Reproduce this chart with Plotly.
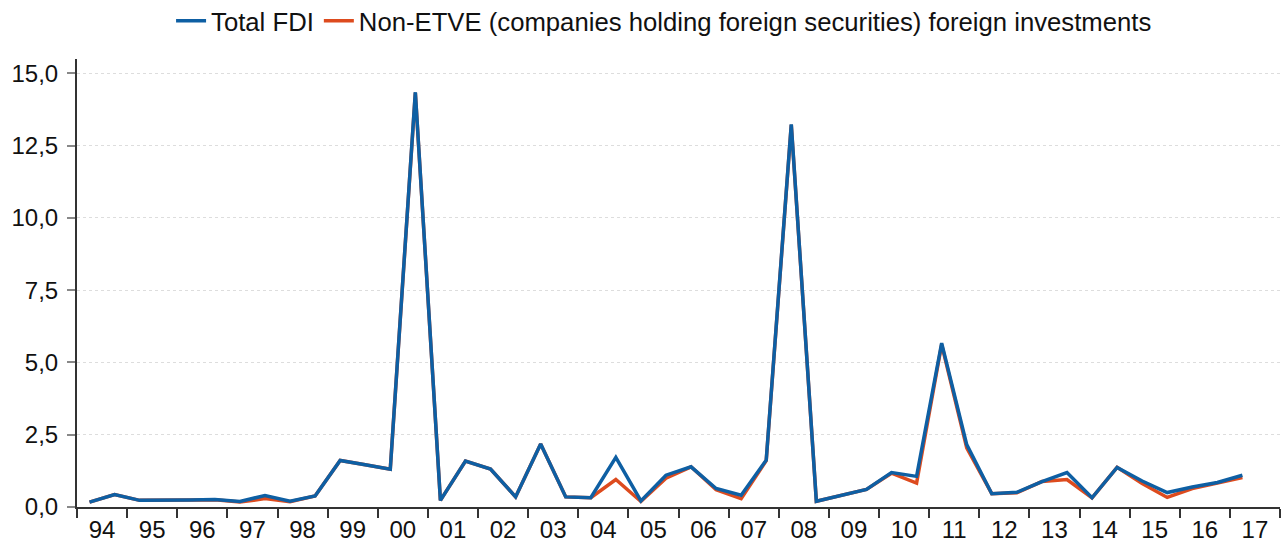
import plotly.graph_objects as go

# half-year observations, 1994 H1 .. 2017 H1 (EUR bn)
years = ["94", "95", "96", "97", "98", "99", "00", "01", "02", "03", "04", "05",
         "06", "07", "08", "09", "10", "11", "12", "13", "14", "15", "16", "17"]

total_fdi = [0.17, 0.43, 0.23, 0.22, 0.24, 0.26, 0.19, 0.40, 0.20, 0.38,
             1.61, 1.46, 1.31, 14.35, 0.23, 1.59, 1.31, 0.35, 2.18, 0.35,
             0.32, 1.72, 0.21, 1.10, 1.39, 0.64, 0.41, 1.62, 13.24, 0.20,
             0.40, 0.61, 1.19, 1.06, 5.67, 2.16, 0.46, 0.51, 0.88, 1.19,
             0.32, 1.37, 0.90, 0.50, 0.69, 0.85, 1.10]

non_etve = [0.17, 0.43, 0.23, 0.22, 0.24, 0.25, 0.17, 0.29, 0.18, 0.38,
            1.61, 1.46, 1.31, 14.33, 0.23, 1.59, 1.31, 0.35, 2.18, 0.35,
            0.32, 0.95, 0.19, 1.00, 1.39, 0.60, 0.29, 1.60, 13.22, 0.20,
            0.40, 0.61, 1.17, 0.83, 5.62, 2.05, 0.46, 0.49, 0.88, 0.95,
            0.32, 1.37, 0.81, 0.33, 0.64, 0.83, 1.02]

x = list(range(len(total_fdi)))
font = "Arial, Liberation Sans, sans-serif"

fig = go.Figure()
fig.add_trace(go.Scatter(x=x, y=non_etve, mode="lines", legendrank=2,
                         name="Non-ETVE (companies holding foreign securities) foreign investments",
                         line=dict(color="#DD4B1E", width=3.5)))
fig.add_trace(go.Scatter(x=x, y=total_fdi, mode="lines", legendrank=1,
                         name="Total FDI",
                         line=dict(color="#0E5FA3", width=3.5)))

fig.update_layout(
    width=1282, height=548,
    margin=dict(l=77, r=2, t=59, b=41, autoexpand=False),
    plot_bgcolor="white", paper_bgcolor="white",
    font=dict(family=font, size=24, color="#111111"),
    legend=dict(orientation="h", x=0.488, xanchor="center", y=1.085, yanchor="middle",
                font=dict(size=25.7), itemwidth=30, tracegroupgap=0),
)
fig.update_xaxes(
    range=[-0.5, 47.5],
    automargin=False,
    tickmode="array",
    tickvals=[0.5 + 2 * k for k in range(len(years))],
    ticktext=years,
    ticks="",
    showgrid=False, zeroline=False,
    showline=True, linecolor="#333333", linewidth=2,
    minor=dict(ticks="outside", tick0=-0.5, dtick=2, ticklen=9, tickwidth=2,
               tickcolor="#333333", showgrid=False),
)
fig.update_yaxes(
    range=[0, 15.5],
    automargin=False,
    tickmode="array",
    tickvals=[0, 2.5, 5, 7.5, 10, 12.5, 15],
    ticktext=["0,0", "2,5", "5,0", "7,5", "10,0", "12,5", "15,0"],
    ticks="outside", ticklen=8, tickwidth=2, tickcolor="#888888",
    ticklabelstandoff=4,
    showgrid=True, gridcolor="#DDDDDD", griddash="dot", gridwidth=1,
    zeroline=False,
    showline=True, linecolor="#333333", linewidth=2,
)

fig.write_html("out.html", config={"displayModeBar": False},
               post_script="document.body.style.margin='0';")
